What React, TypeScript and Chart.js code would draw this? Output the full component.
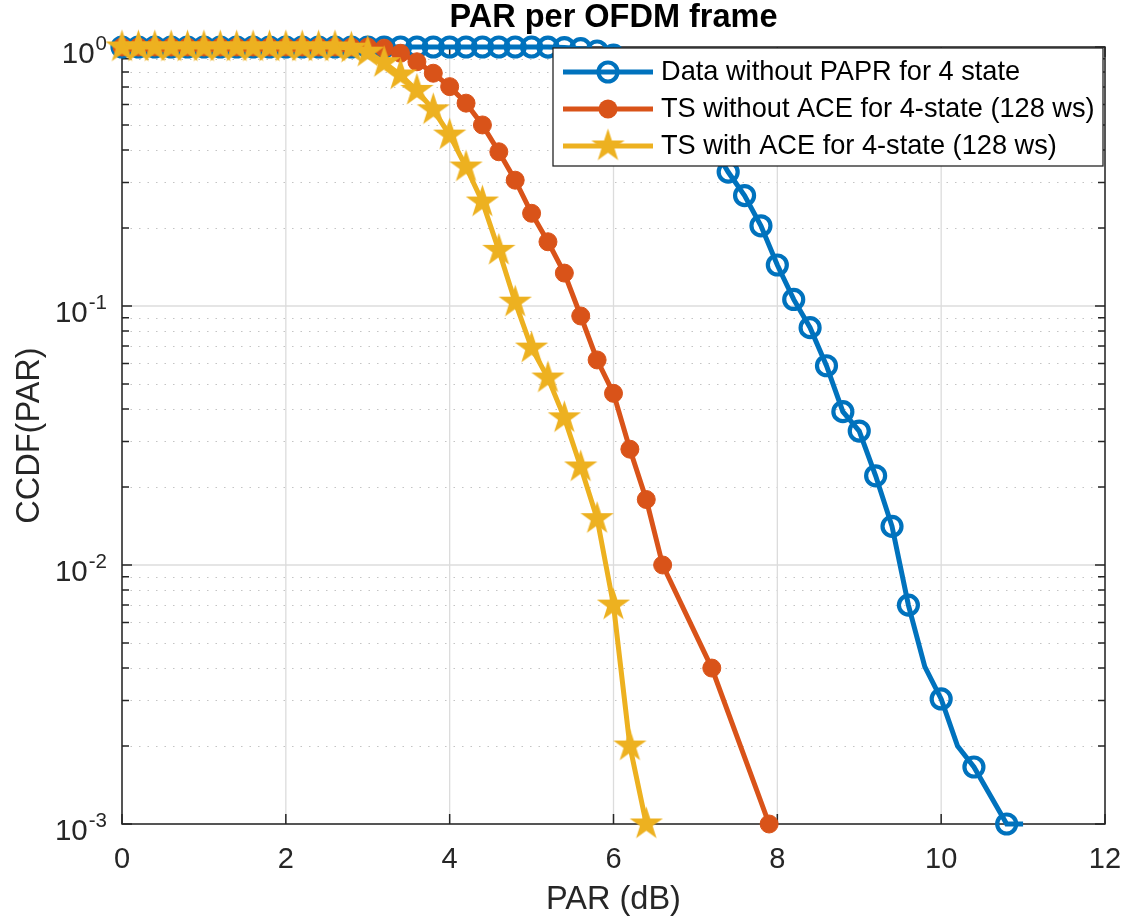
import React, { useEffect, useRef } from 'react';
import { Chart, registerables } from 'chart.js';

Chart.register(...registerables);

// ---------- data ----------
const xBlue = [0, 0.2, 0.4, 0.6, 0.8, 1.0, 1.2, 1.4, 1.6, 1.8, 2.0, 2.2, 2.4, 2.6, 2.8, 3.0, 3.2, 3.4, 3.6, 3.8, 4.0, 4.2, 4.4, 4.6, 4.8, 5.0, 5.2, 5.4, 5.6, 5.8, 6.0, 6.2, 6.4, 6.6, 6.8, 7.0, 7.2, 7.4, 7.6, 7.8, 8.0, 8.2, 8.4, 8.6, 8.8, 9.0, 9.2, 9.4, 9.6, 9.8, 10.0, 10.2, 10.4, 10.8, 11.0];
const yBlue = [1, 1, 1, 1, 1, 1, 1, 1, 1, 1, 1, 1, 1, 1, 1, 1, 1, 1, 1, 1, 1, 1, 1, 1, 1, 1, 0.999, 0.995, 0.985, 0.965, 0.93, 0.88, 0.81, 0.72, 0.62, 0.52, 0.42, 0.329, 0.267, 0.204, 0.144, 0.106, 0.0825, 0.0588, 0.0391, 0.0329, 0.0221, 0.0141, 0.0070, 0.00405, 0.00304, 0.0020, 0.00166, 0.001, 0.001];
const blueUnmarked = [9.8, 10.2, 11.0];

const xOrange = [0, 0.2, 0.4, 0.6, 0.8, 1.0, 1.2, 1.4, 1.6, 1.8, 2.0, 2.2, 2.4, 2.6, 2.8, 3.0, 3.2, 3.4, 3.6, 3.8, 4.0, 4.2, 4.4, 4.6, 4.8, 5.0, 5.2, 5.4, 5.6, 5.8, 6.0, 6.2, 6.4, 6.6, 7.2, 7.9];
const yOrange = [1, 1, 1, 1, 1, 1, 1, 1, 1, 1, 1, 1, 1, 1, 1, 1, 0.99, 0.946, 0.877, 0.792, 0.703, 0.607, 0.5, 0.394, 0.306, 0.228, 0.177, 0.134, 0.0915, 0.0619, 0.046, 0.028, 0.0179, 0.010, 0.0040, 0.001];

const xYellow = [0, 0.2, 0.4, 0.6, 0.8, 1.0, 1.2, 1.4, 1.6, 1.8, 2.0, 2.2, 2.4, 2.6, 2.8, 3.0, 3.2, 3.4, 3.6, 3.8, 4.0, 4.2, 4.4, 4.6, 4.8, 5.0, 5.2, 5.4, 5.6, 5.8, 6.0, 6.2, 6.4];
const yYellow = [1, 1, 1, 1, 1, 1, 1, 1, 1, 1, 1, 1, 1, 1, 0.99, 0.955, 0.87, 0.78, 0.68, 0.572, 0.457, 0.344, 0.252, 0.164, 0.1035, 0.0688, 0.0527, 0.037, 0.0239, 0.0151, 0.0070, 0.0020, 0.001];

const seriesLabels = [
  'Data without PAPR for 4 state',
  'TS without ACE for 4-state (128 ws)',
  'TS with ACE for 4-state (128 ws)',
];

const xTickValues = [0, 2, 4, 6, 8, 10, 12];
const yDecades = [0.001, 0.01, 0.1, 1];
const yExponents = ['-3', '-2', '-1', '0'];
const minorMultipliers = [2, 3, 4, 5, 6, 7, 8, 9];

const titleText = 'PAR per OFDM frame';
const xLabelText = 'PAR (dB)';
const yLabelText = 'CCDF(PAR)';

// ---------- styles ----------
const BLUE = '#0072BD';
const ORANGE = '#D95319';
const YELLOW = '#EDB120';
const AXIS = '#262626';
const FONT = '"Liberation Sans", Arial, Helvetica, sans-serif';
const LINE_W = 5;

function makeStar(color: string, R: number): HTMLCanvasElement {
  const c = document.createElement('canvas');
  const s = Math.ceil(2 * R + 4);
  c.width = s;
  c.height = s;
  const g = c.getContext('2d')!;
  g.translate(s / 2, s / 2);
  g.beginPath();
  for (let i = 0; i < 10; i++) {
    const r = i % 2 === 0 ? R : R * 0.382;
    const a = -Math.PI / 2 + (i * Math.PI) / 5;
    const px = r * Math.cos(a);
    const py = r * Math.sin(a);
    if (i === 0) g.moveTo(px, py);
    else g.lineTo(px, py);
  }
  g.closePath();
  g.fillStyle = color;
  g.fill();
  return c;
}

export default function App() {
  const ref = useRef<HTMLCanvasElement>(null);

  useEffect(() => {
    document.body.style.margin = '0';
    const canvas = ref.current!;
    const star = makeStar(YELLOW, 17.5);

    const decoPlugin = {
      id: 'matlabDeco',
      beforeDatasetsDraw(chart: any) {
        const { ctx, chartArea } = chart;
        const { left, right, top, bottom } = chartArea;
        const xs = chart.scales.x;
        const ys = chart.scales.y;
        ctx.save();
        // minor dotted grid
        ctx.strokeStyle = '#c4c4c4';
        ctx.lineWidth = 1.2;
        ctx.setLineDash([1.5, 7]);
        for (let d = 0; d < yDecades.length - 1; d++) {
          for (const m of minorMultipliers) {
            const py = Math.round(ys.getPixelForValue(yDecades[d] * m)) + 0.5;
            ctx.beginPath();
            ctx.moveTo(left, py);
            ctx.lineTo(right, py);
            ctx.stroke();
          }
        }
        ctx.setLineDash([]);
        // major grid
        ctx.strokeStyle = '#dcdcdc';
        ctx.lineWidth = 1.3;
        for (const v of xTickValues) {
          const px = xs.getPixelForValue(v);
          ctx.beginPath();
          ctx.moveTo(px, top);
          ctx.lineTo(px, bottom);
          ctx.stroke();
        }
        for (const v of yDecades) {
          const py = ys.getPixelForValue(v);
          ctx.beginPath();
          ctx.moveTo(left, py);
          ctx.lineTo(right, py);
          ctx.stroke();
        }
        // box
        ctx.strokeStyle = AXIS;
        ctx.lineWidth = 1.5;
        ctx.strokeRect(left, top, right - left, bottom - top);
        // inward ticks
        ctx.beginPath();
        for (const v of xTickValues) {
          const px = xs.getPixelForValue(v);
          ctx.moveTo(px, bottom);
          ctx.lineTo(px, bottom - 10);
          ctx.moveTo(px, top);
          ctx.lineTo(px, top + 10);
        }
        for (const v of yDecades) {
          const py = ys.getPixelForValue(v);
          ctx.moveTo(left, py);
          ctx.lineTo(left + 10, py);
          ctx.moveTo(right, py);
          ctx.lineTo(right - 10, py);
        }
        for (let d = 0; d < yDecades.length - 1; d++) {
          for (const m of minorMultipliers) {
            const py = ys.getPixelForValue(yDecades[d] * m);
            ctx.moveTo(left, py);
            ctx.lineTo(left + 7, py);
            ctx.moveTo(right, py);
            ctx.lineTo(right - 7, py);
          }
        }
        ctx.stroke();
        ctx.restore();
      },
      afterDatasetsDraw(chart: any) {
        const { ctx, chartArea } = chart;
        const { left, right, top, bottom } = chartArea;
        const xs = chart.scales.x;
        const ys = chart.scales.y;
        ctx.save();
        // tick labels
        ctx.fillStyle = AXIS;
        ctx.font = `29px ${FONT}`;
        ctx.textAlign = 'center';
        ctx.textBaseline = 'alphabetic';
        for (const v of xTickValues) {
          ctx.fillText(String(v), xs.getPixelForValue(v), bottom + 44);
        }
        const labelRight = left - 15;
        for (let i = 0; i < yDecades.length; i++) {
          const py = ys.getPixelForValue(yDecades[i]);
          ctx.font = `20.5px ${FONT}`;
          ctx.textAlign = 'right';
          const ew = ctx.measureText(yExponents[i]).width;
          ctx.fillText(yExponents[i], labelRight, py + 3);
          ctx.font = `29.5px ${FONT}`;
          ctx.fillText('10', labelRight - ew - 1, py + 16);
        }
        // axis labels
        ctx.font = `32.5px ${FONT}`;
        ctx.textAlign = 'center';
        ctx.fillText(xLabelText, (left + right) / 2, 909);
        ctx.save();
        ctx.translate(30, (top + bottom) / 2);
        ctx.rotate(-Math.PI / 2);
        ctx.textBaseline = 'middle';
        ctx.fillText(yLabelText, 0, 0);
        ctx.restore();
        // title
        ctx.fillStyle = '#000';
        ctx.font = `bold 32.5px ${FONT}`;
        ctx.textAlign = 'center';
        ctx.textBaseline = 'alphabetic';
        ctx.fillText(titleText, (left + right) / 2, 27);

        // legend
        const lx = 553, ly = 48, lw = 550, lh = 118;
        ctx.fillStyle = '#fff';
        ctx.fillRect(lx, ly, lw, lh);
        ctx.strokeStyle = AXIS;
        ctx.lineWidth = 1.3;
        ctx.strokeRect(lx, ly, lw, lh);
        const rows = [72, 109, 146];
        const colors = [BLUE, ORANGE, YELLOW];
        for (let i = 0; i < 3; i++) {
          const ry = rows[i];
          ctx.strokeStyle = colors[i];
          ctx.lineWidth = LINE_W;
          ctx.beginPath();
          ctx.moveTo(563, ry);
          ctx.lineTo(653, ry);
          ctx.stroke();
          if (i === 0) {
            ctx.lineWidth = 4.2;
            ctx.beginPath();
            ctx.arc(608, ry, 9.5, 0, Math.PI * 2);
            ctx.stroke();
          } else if (i === 1) {
            ctx.fillStyle = ORANGE;
            ctx.beginPath();
            ctx.arc(608, ry, 9.5, 0, Math.PI * 2);
            ctx.fill();
          } else {
            ctx.drawImage(star, 608 - star.width / 2, ry - star.height / 2);
          }
          ctx.fillStyle = '#000';
          ctx.font = `27.2px ${FONT}`;
          ctx.textAlign = 'left';
          ctx.textBaseline = 'middle';
          ctx.fillText(seriesLabels[i], 661, ry + 1);
        }
        ctx.restore();
      },
    };

    const toPts = (xs: number[], ys: number[]) => xs.map((x, i) => ({ x, y: ys[i] }));

    const chart = new Chart(canvas, {
      type: 'line',
      data: {
        datasets: [
          {
            label: seriesLabels[0],
            data: toPts(xBlue, yBlue),
            borderColor: BLUE,
            borderWidth: LINE_W,
            pointStyle: 'circle',
            pointRadius: xBlue.map((v) => (blueUnmarked.includes(v) ? 0 : 9.5)),
            pointBorderWidth: 4.2,
            pointBorderColor: BLUE,
            pointBackgroundColor: 'rgba(0,0,0,0)',
            clip: false,
            order: 3,
            tension: 0,
          } as any,
          {
            label: seriesLabels[1],
            data: toPts(xOrange, yOrange),
            borderColor: ORANGE,
            borderWidth: LINE_W,
            pointStyle: 'circle',
            pointRadius: 9,
            pointBorderWidth: 1,
            pointBorderColor: ORANGE,
            pointBackgroundColor: ORANGE,
            clip: false,
            order: 2,
            tension: 0,
          } as any,
          {
            label: seriesLabels[2],
            data: toPts(xYellow, yYellow),
            borderColor: YELLOW,
            borderWidth: LINE_W,
            pointStyle: star,
            pointRadius: 10,
            pointBorderColor: YELLOW,
            pointBackgroundColor: YELLOW,
            clip: false,
            order: 1,
            tension: 0,
          } as any,
        ],
      },
      options: {
        animation: false,
        responsive: false,
        maintainAspectRatio: false,
        events: [],
        layout: { padding: { top: 47, right: 26, left: 0, bottom: 0 }, autoPadding: false },
        plugins: {
          legend: { display: false },
          tooltip: { enabled: false },
          title: { display: false },
        },
        scales: {
          x: {
            type: 'linear',
            min: 0,
            max: 12,
            ticks: { display: false },
            grid: { display: false },
            border: { display: false },
            afterFit: (s: any) => {
              s.height = 97;
            },
          },
          y: {
            type: 'logarithmic',
            min: 0.001,
            max: 1,
            ticks: { display: false },
            grid: { display: false },
            border: { display: false },
            afterFit: (s: any) => {
              s.width = 122;
            },
          },
        },
      } as any,
      plugins: [decoPlugin],
    });

    return () => chart.destroy();
  }, []);

  return (
    <canvas
      ref={ref}
      width={1131}
      height={921}
      style={{ display: 'block', width: 1131, height: 921 }}
    />
  );
}
